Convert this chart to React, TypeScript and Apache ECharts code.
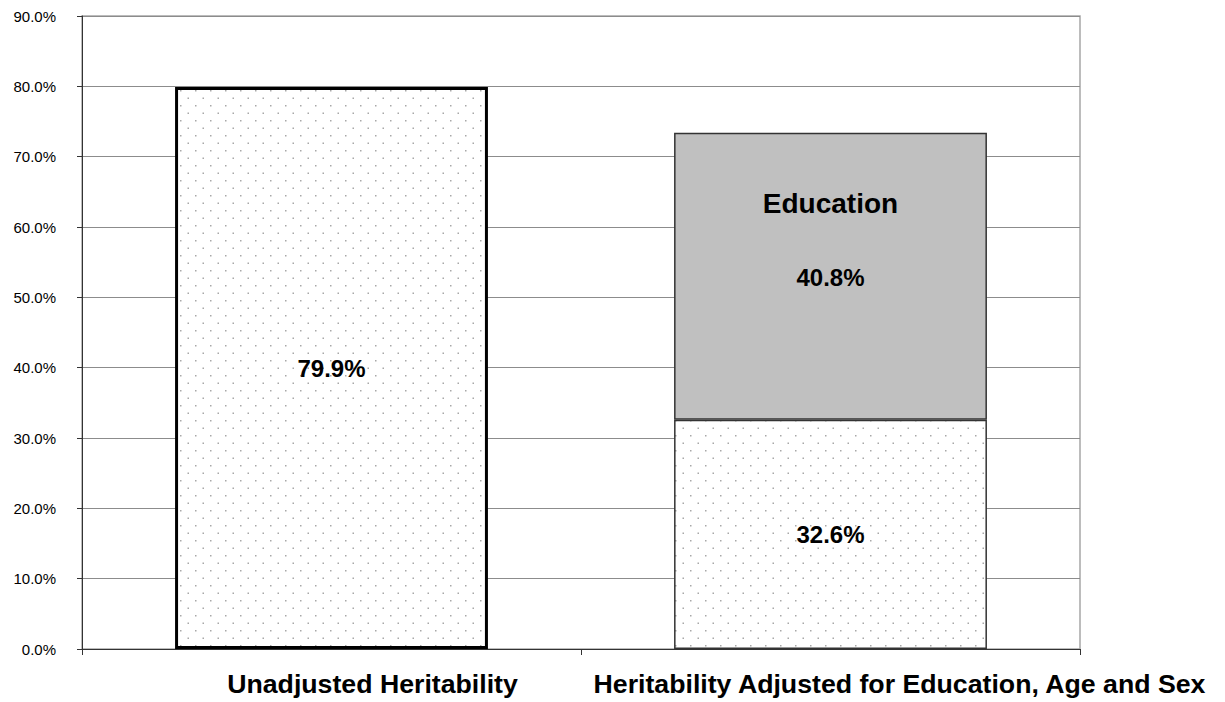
import React, { useEffect, useRef } from "react";
import * as echarts from "echarts";

const categories = ["Unadjusted Heritability", "Heritability Adjusted for Education, Age and Sex"];
const baseValues = [79.9, 32.6];
const educationValues: (number | null)[] = [null, 40.8];
const yTicks = { min: 0, max: 90, interval: 10 };

function makeDots(): string {
  const c = document.createElement("canvas");
  c.width = 15;
  c.height = 15;
  const ctx = c.getContext("2d")!;
  ctx.fillStyle = "#ffffff";
  ctx.fillRect(0, 0, 15, 15);
  ctx.fillStyle = "#a8a8a8";
  ctx.fillRect(0, 0, 1.5, 1.5);
  ctx.fillRect(7.5, 7.5, 1.5, 1.5);
  return c.toDataURL();
}

export default function App() {
  const ref = useRef<HTMLDivElement>(null);
  useEffect(() => {
    if (!ref.current) return;
    const chart = echarts.init(ref.current, null, { renderer: "svg" });
    const pattern: any = { image: makeDots(), repeat: "repeat" };
    const font = "'Liberation Sans', Arial, sans-serif";
    chart.setOption({
      animation: false,
      backgroundColor: "#ffffff",
      grid: {
        left: 82,
        right: 145,
        top: 16,
        bottom: 53,
        show: true,
        borderColor: "#a6a6a6",
        borderWidth: 1.5,
        backgroundColor: "transparent",
      },
      xAxis: {
        type: "category",
        data: [
          { value: categories[0], textStyle: { padding: [0, 0, 0, 82] } },
          { value: categories[1], textStyle: { padding: [0, 0, 0, 138] } },
        ],
        axisLine: { show: true, lineStyle: { color: "#333", width: 1 } },
        axisTick: { show: true, length: 6, lineStyle: { color: "#333" } },
        axisLabel: {
          margin: 21,
          fontSize: 26.7,
          fontWeight: "bold",
          color: "#000",
          fontFamily: font,
          interval: 0,
        },
      },
      yAxis: {
        type: "value",
        min: yTicks.min,
        max: yTicks.max,
        interval: yTicks.interval,
        axisLine: { show: true, lineStyle: { color: "#333", width: 1 } },
        axisTick: { show: true, length: 5, lineStyle: { color: "#333" } },
        splitLine: { show: true, lineStyle: { color: "#8c8c8c", width: 1 } },
        axisLabel: {
          margin: 26,
          fontSize: 15,
          color: "#000",
          fontFamily: font,
          formatter: (v: number) => v.toFixed(1) + "%",
        },
      },
      series: [
        {
          name: "Heritability",
          type: "bar",
          stack: "total",
          barWidth: "62.7%",
          data: baseValues.map((v, i) => ({
            value: v,
            itemStyle:
              i === 0
                ? { color: pattern, borderColor: "#000", borderWidth: 3 }
                : { color: pattern, borderColor: "#333", borderWidth: 1.5 },
          })),
          label: {
            show: true,
            position: "inside",
            formatter: (p: any) => p.value.toFixed(1) + "%",
            fontSize: 24,
            fontWeight: "bold",
            color: "#000",
            fontFamily: font,
          },
        },
        {
          name: "Education",
          type: "bar",
          stack: "total",
          barWidth: "62.7%",
          data: educationValues.map((v) => (v == null ? "-" : v)),
          itemStyle: { color: "#c0c0c0", borderColor: "#333", borderWidth: 1.5 },
          label: {
            show: true,
            position: "inside",
            offset: [0, -36],
            formatter: (p: any) => "{n|Education}\n{v|" + Number(p.value).toFixed(1) + "%}",
            rich: {
              n: { fontSize: 28, fontWeight: "bold", color: "#000", fontFamily: font, lineHeight: 74 },
              v: { fontSize: 24, fontWeight: "bold", color: "#000", fontFamily: font, lineHeight: 74 },
            },
          },
        },
      ],
    });
    return () => chart.dispose();
  }, []);
  return <div ref={ref} style={{ position: "fixed", left: 0, top: 0, width: 1225, height: 702 }} />;
}
